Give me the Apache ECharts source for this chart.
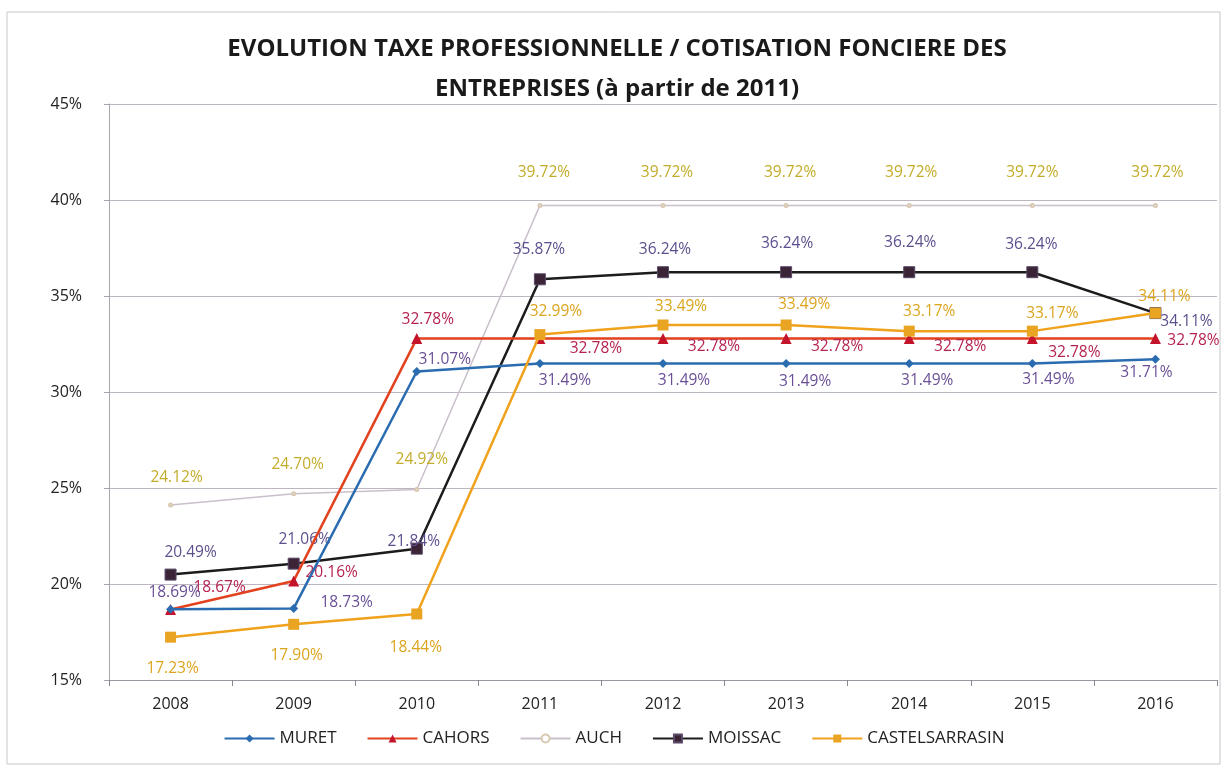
<!DOCTYPE html>
<html>
<head>
<meta charset="utf-8">
<script src="https://cdn.jsdelivr.net/npm/echarts@6/dist/echarts.min.js"></script>
<style>
html,body{margin:0;padding:0;background:#fff;}
#chart{width:1228px;height:770px;}
</style>
</head>
<body>
<div id="chart"></div>
<script>
const categories = ['2008','2009','2010','2011','2012','2013','2014','2015','2016'];
const muret   = [18.69, 18.73, 31.07, 31.49, 31.49, 31.49, 31.49, 31.49, 31.71];
const cahors  = [18.67, 20.16, 32.78, 32.78, 32.78, 32.78, 32.78, 32.78, 32.78];
const auch    = [24.12, 24.70, 24.92, 39.72, 39.72, 39.72, 39.72, 39.72, 39.72];
const moissac = [20.49, 21.06, 21.84, 35.87, 36.24, 36.24, 36.24, 36.24, 34.11];
const castel  = [17.23, 17.90, 18.44, 32.99, 33.49, 33.49, 33.17, 33.17, 34.11];
const seriesNames = ['MURET','CAHORS','AUCH','MOISSAC','CASTELSARRASIN'];
const yTicks = [15, 20, 25, 30, 35, 40, 45];

// label placement (offset of label centre from the point)
const muretOff   = [[4,-17],[53,-6],[28,-12],[25,17],[21,17],[19,18],[18,17],[16,16],[-9,13]];
const cahorsOff  = [[49,-22],[38,-8],[11,-19],[56,10],[51,8],[51,8],[51,8],[42,14],[38,2]];
const auchOff    = [[6,-27],[4,-29],[5,-30],[4,-33],[4,-33],[4,-33],[2,-33],[0,-33],[2,-33]];
const moissacOff = [[20,-22],[11,-24],[-3,-7],[-1,-30],[2,-23],[1,-29],[1,-30],[-1,-28],[31,8]];
const castelOff  = [[2,31],[3,31],[-1,34],[16,-23],[18,-18],[18,-20],[20,-20],[20,-18],[9,-17]];

const FONT = "'Open Sans', sans-serif";

function mk(name, values, offs, opt) {
  return {
    name: name,
    type: 'line',
    data: values.map((v, i) => ({ value: v, label: { offset: offs[i] } })),
    symbol: opt.symbol,
    symbolSize: opt.symbolSize,
    showSymbol: true,
    lineStyle: { color: opt.line, width: opt.width },
    itemStyle: { color: opt.marker, borderColor: opt.markerBorder || opt.marker, borderWidth: opt.borderWidth || 0 },
    label: {
      show: true,
      position: 'inside',
      color: opt.labelColor,
      fontFamily: FONT,
      fontSize: 15.5,
      textBorderWidth: 0,
      formatter: p => p.value.toFixed(2) + '%'
    },
    emphasis: { disabled: true },
    z: opt.z
  };
}

const chart = echarts.init(document.getElementById('chart'));
chart.setOption({
  animation: false,
  backgroundColor: '#ffffff',
  title: {
    text: 'EVOLUTION TAXE PROFESSIONNELLE / COTISATION FONCIERE DES\nENTREPRISES (à partir de 2011)',
    left: 612,
    textAlign: 'center',
    top: 24,
    textStyle: { fontFamily: FONT, fontWeight: 'bold', fontSize: 24, color: '#1a1a1a', lineHeight: 40 }
  },
  graphic: [{
    type: 'rect', shape: { x: 7, y: 12, width: 1213, height: 752 },
    style: { fill: 'none', stroke: '#c8c4c8', lineWidth: 1 }, silent: true
  }],
  legend: {
    data: seriesNames,
    bottom: 18,
    left: 'center',
    itemWidth: 50,
    itemHeight: 10,
    itemGap: 30,
    textStyle: { fontFamily: FONT, fontSize: 17, color: '#222' }
  },
  grid: { left: 109, right: 11, top: 104, bottom: 90 },
  xAxis: {
    type: 'category',
    data: categories,
    boundaryGap: true,
    axisLine: { lineStyle: { color: '#9a96a0', width: 1 } },
    axisTick: { show: true, length: 6, lineStyle: { color: '#8a8690' } },
    axisLabel: { fontFamily: FONT, fontSize: 16, color: '#222', margin: 16 }
  },
  yAxis: {
    type: 'value',
    min: yTicks[0],
    max: yTicks[yTicks.length - 1],
    interval: 5,
    axisLine: { show: true, lineStyle: { color: '#a8a4ae', width: 1 } },
    axisTick: { show: true, length: 5, lineStyle: { color: '#a8a4ae' } },
    splitLine: { lineStyle: { color: '#bdb5c0', width: 1 } },
    axisLabel: { fontFamily: FONT, fontSize: 16, color: '#222', margin: 27, formatter: '{value}%' }
  },
  series: [
    mk('MURET', muret, muretOff, { symbol: 'diamond', symbolSize: 9, line: '#2b6cb0', marker: '#2b6cb0', width: 2.5, labelColor: '#6a4f96', z: 5 }),
    mk('CAHORS', cahors, cahorsOff, { symbol: 'triangle', symbolSize: 11, line: '#e2421e', marker: '#c4142c', width: 2.5, labelColor: '#b5234f', z: 4 }),
    mk('AUCH', auch, auchOff, { symbol: 'emptyCircle', symbolSize: 3, line: '#c9c0cb', marker: '#d8c8b0', width: 1.5, labelColor: '#c3ac2a', z: 2 }),
    mk('MOISSAC', moissac, moissacOff, { symbol: 'rect', symbolSize: 11, line: '#1c1c1c', marker: '#3a2436', markerBorder: '#5a4a6a', borderWidth: 1, width: 2.5, labelColor: '#5d4f8e', z: 3 }),
    mk('CASTELSARRASIN', castel, castelOff, { symbol: 'rect', symbolSize: 11, line: '#f0a21c', marker: '#e9a422', width: 2.5, labelColor: '#dba51e', z: 6 })
  ]
});
</script>
</body>
</html>
